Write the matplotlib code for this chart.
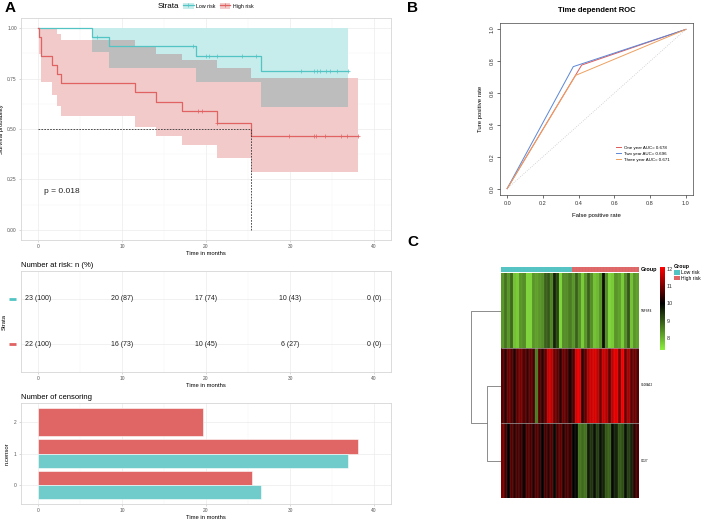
import matplotlib
matplotlib.use("Agg")
import matplotlib.pyplot as plt
import numpy as np
from matplotlib.lines import Line2D
from matplotlib.patches import Patch
from matplotlib.colors import LinearSegmentedColormap, ListedColormap
from matplotlib.transforms import blended_transform_factory

plt.rcParams['font.family'] = ['Liberation Sans', 'DejaVu Sans']

# ---- KM data ----
low_t = [0, 6.47, 8.45, 18.77, 26.5]
low_s = [1.0, 0.957, 0.913, 0.864, 0.788]
low_lo = [1.0, 0.88, 0.80, 0.735, 0.61]
low_hi = [1.0, 1.0, 1.0, 1.0, 1.0]
low_end = 36.9
low_cens = [7.06, 18.4, 20.0, 20.3, 21.35, 24.3, 26.0, 31.3, 32.9, 33.2, 33.5, 34.3, 34.7, 35.6, 36.9]

high_t = [0, 0.16, 0.4, 1.63, 2.3, 2.74, 11.55, 14.05, 17.1, 21.3, 25.4]
high_s = [1.0, 0.955, 0.864, 0.818, 0.773, 0.727, 0.682, 0.636, 0.591, 0.532, 0.466]
high_lo = [1.0, 0.87, 0.735, 0.67, 0.615, 0.562, 0.512, 0.466, 0.42, 0.355, 0.287]
high_hi = [1.0, 1.0, 1.0, 1.0, 0.97, 0.94, 0.91, 0.87, 0.84, 0.80, 0.755]
high_end = 38.1
high_cens = [19.05, 19.5, 21.35, 29.9, 32.9, 33.1, 34.2, 36.0, 36.8, 38.1]

median_high = 25.4
p_text = "p = 0.018"

# number at risk
risk_times = [0, 10, 20, 30, 40]
risk_low = ["23 (100)", "20 (87)", "17 (74)", "10 (43)", "0 (0)"]
risk_high = ["22 (100)", "16 (73)", "10 (45)", "6 (27)", "0 (0)"]

# number of censoring
cens_levels = [0, 1, 2]
cens_high = [25.5, 38.1, 19.6]
cens_low = [26.5, 36.9, 0]

# ROC
roc_fpr = {"one": [0, 0.417, 1], "two": [0, 0.37, 1], "three": [0, 0.383, 1]}
roc_tpr = {"one": [0, 0.776, 1], "two": [0, 0.766, 1], "three": [0, 0.711, 1]}
roc_labels = {"one": "One year AUC= 0.678", "two": "Two year AUC= 0.696",
              "three": "Three year AUC= 0.671"}
roc_colors = {"one": "#DE5A5A", "two": "#5B86D6", "three": "#EDA060"}

# heatmap
genes = ["TNFSF4", "S100A12", "CD27"]
groups = ["Low risk"] * 23 + ["High risk"] * 22
expr_tnfsf4 = [8.3, 8.7, 8.3, 8.8, 7.8, 7.7, 8.3, 8.4, 7.6, 7.6, 8.3, 8.2, 8.3, 8.4, 8.9, 9.0,
               8.5, 9.6, 9.2, 7.6, 8.4, 8.4, 8.6,
               8.3, 8.9, 8.4, 7.7, 8.3, 8.9, 8.4, 7.8, 7.9, 8.3, 9.8, 8.4, 7.6, 7.7, 8.3,
               8.2, 7.7, 8.4, 9.0, 7.8, 8.3, 8.2]
expr_s100a12 = [10.7, 10.4, 10.9, 10.7, 10.3, 10.8, 11.0, 10.7, 10.5, 10.8, 10.6, 8.6, 10.7,
                10.4, 10.8, 11.7, 11.6, 10.9, 10.8, 10.4, 10.9, 10.7, 10.3,
                10.6, 11.8, 11.9, 10.4, 10.8, 11.5, 11.7, 11.8, 11.6, 11.0, 11.7, 11.5, 10.8,
                11.6, 11.9, 11.0, 12.0, 10.9, 11.4, 10.8, 10.9, 10.7]
expr_cd27 = [11.0, 10.6, 10.0, 10.7, 10.4, 10.6, 10.5, 10.2, 10.7, 10.6, 10.3, 10.7, 10.5,
             10.0, 10.6, 10.4, 10.7, 9.9, 10.6, 10.8, 10.3, 10.6, 10.5,
             10.0, 9.9, 8.7, 8.8, 8.7, 9.7, 9.4, 9.8, 9.3, 9.8, 9.6, 9.0, 8.9, 9.9, 9.6,
             9.0, 9.1, 9.8, 9.3, 9.6, 10.4, 10.6]
merge_heights = [1.0, 2.07]

RED = "#E06262"
CYAN = "#52C4C4"
RED_FILL = "#F2CACA"
CYAN_FILL = "#C6ECEC"
GRAY_FILL = "#BDBDBD"
GRID = "#EBEBEB"


def step_at(t, v, x):
    idx = np.searchsorted(t, x, side="right") - 1
    return np.asarray(v)[idx]


def style_gg(ax):
    for s in ax.spines.values():
        s.set_color("#D6D6D6")
        s.set_linewidth(0.6)
    ax.tick_params(length=1.5, width=0.4, color="#BBBBBB", labelsize=3.5,
                   labelcolor="#555555", pad=1.5)
    ax.grid(True, which="major", color=GRID, lw=0.5)
    ax.grid(True, which="minor", color="#F3F3F3", lw=0.3)
    ax.set_axisbelow(True)


fig = plt.figure(figsize=(7.08, 5.19), dpi=100)
W, H = 708, 519


def box(x0, y0, x1, y1):
    return [x0 / W, 1 - y1 / H, (x1 - x0) / W, (y1 - y0) / H]


# ---------------- KM plot ----------------
ax = fig.add_axes(box(21, 18, 391, 240))
lt = np.array(low_t + [low_end])
ht = np.array(high_t + [high_end])
ax.fill_between(ht, high_lo + [high_lo[-1]], high_hi + [high_hi[-1]], step="post",
                color=RED_FILL, lw=0)
ax.fill_between(lt, low_lo + [low_lo[-1]], low_hi + [low_hi[-1]], step="post",
                color=CYAN_FILL, lw=0)
grid_t = np.unique(np.concatenate([lt, ht]))
grid_t = grid_t[grid_t <= min(low_end, high_end)]
o_lo = np.maximum(step_at(low_t, low_lo, grid_t), step_at(high_t, high_lo, grid_t))
o_hi = np.minimum(step_at(low_t, low_hi, grid_t), step_at(high_t, high_hi, grid_t))
o_hi = np.maximum(o_hi, o_lo)
ax.fill_between(grid_t, o_lo, o_hi, step="post", color=GRAY_FILL, lw=0)

ax.step(lt, low_s + [low_s[-1]], where="post", color=CYAN, lw=0.9)
ax.step(ht, high_s + [high_s[-1]], where="post", color=RED, lw=0.9)
ax.plot(low_cens, step_at(low_t, low_s, low_cens), "+", color=CYAN, ms=3.5, mew=0.5)
ax.plot(high_cens, step_at(high_t, high_s, high_cens), "+", color=RED, ms=3.5, mew=0.5)
ax.plot([0, median_high], [0.5, 0.5], ls=(0, (2, 1.5)), color="#333333", lw=0.6)
ax.plot([median_high, median_high], [0, 0.5], ls=(0, (2, 1.5)), color="#333333", lw=0.6)
ax.text(0.7, 0.19, p_text, fontsize=6, color="#222222", va="center")
ax.set_xlim(-2, 42)
ax.set_ylim(-0.05, 1.05)
ax.set_xticks([0, 10, 20, 30, 40])
ax.set_xticks([5, 15, 25, 35], minor=True)
ax.set_yticks([0, 0.25, 0.5, 0.75, 1.0])
ax.set_yticklabels(["0.00", "0.25", "0.50", "0.75", "1.00"])
ax.set_yticks([0.125, 0.375, 0.625, 0.875], minor=True)
ax.tick_params(which="minor", length=0)
style_gg(ax)
ax.set_xlabel("Time in months", fontsize=4.2, labelpad=1.5)
ax.set_ylabel("Survival probability", fontsize=4.2, labelpad=2)
fig.text(10 / W, 1 - 8 / H, "A", fontsize=11, fontweight="bold", va="center", ha="center")

# legend at top
fig.text(158 / W, 1 - 6 / H, "Strata", fontsize=5.8, va="center")
h_low = (Patch(facecolor=CYAN_FILL, edgecolor="none"),
         Line2D([], [], color=CYAN, lw=0.9, marker="+", ms=3.5, mew=0.5))
h_high = (Patch(facecolor=RED_FILL, edgecolor="none"),
          Line2D([], [], color=RED, lw=0.9, marker="+", ms=3.5, mew=0.5))
fig.legend([h_low, h_high], ["Low risk", "High risk"], loc="center left",
           bbox_to_anchor=(183 / W, 1 - 6 / H), ncol=2, frameon=False, fontsize=3.8,
           handlelength=2.0, handleheight=1.2, columnspacing=0.8, handletextpad=0.5,
           borderaxespad=0, borderpad=0)

# ---------------- risk table ----------------
ax2 = fig.add_axes(box(21, 271, 391, 372))
for t, a, b in zip(risk_times, risk_low, risk_high):
    ax2.text(t, 2, a, ha="center", va="center", fontsize=5, color="#222222")
    ax2.text(t, 1, b, ha="center", va="center", fontsize=5, color="#222222")
ax2.set_xlim(-2, 42)
ax2.set_ylim(0.4, 2.6)
ax2.set_xticks([0, 10, 20, 30, 40])
ax2.set_xticks([5, 15, 25, 35], minor=True)
ax2.set_yticks([1, 2])
ax2.set_yticklabels(["", ""])
ax2.tick_params(which="minor", length=0)
style_gg(ax2)
ax2.tick_params(axis="y", length=0)
tr = blended_transform_factory(ax2.transAxes, ax2.transData)
ax2.plot([-0.033, -0.013], [2, 2], color=CYAN, lw=2, transform=tr, clip_on=False,
         solid_capstyle="butt")
ax2.plot([-0.033, -0.013], [1, 1], color=RED, lw=2, transform=tr, clip_on=False,
         solid_capstyle="butt")
ax2.set_xlabel("Time in months", fontsize=4.2, labelpad=1.5)
ax2.set_ylabel("Strata", fontsize=4.2, labelpad=9)
ax2.set_title("Number at risk: n (%)", fontsize=5.5, loc="left", pad=3, x=0)

# ---------------- censoring ----------------
ax3 = fig.add_axes(box(21, 403, 391, 504))
for lv, hv, cv in zip(cens_levels, cens_high, cens_low):
    if cv > 0:
        ax3.barh(lv + 0.225, hv, height=0.45, color="#E06666", edgecolor="white", lw=0.4)
        ax3.barh(lv - 0.225, cv, height=0.45, color="#70CBCB", edgecolor="white", lw=0.4)
    else:
        ax3.barh(lv, hv, height=0.9, color="#E06666", edgecolor="white", lw=0.4)
ax3.set_xlim(-2, 42)
ax3.set_ylim(-0.6, 2.6)
ax3.set_xticks([0, 10, 20, 30, 40])
ax3.set_xticks([5, 15, 25, 35], minor=True)
ax3.set_yticks(cens_levels)
ax3.tick_params(which="minor", length=0)
style_gg(ax3)
ax3.set_xlabel("Time in months", fontsize=4.2, labelpad=1.5)
ax3.set_ylabel("n.censor", fontsize=4.2, labelpad=3)
ax3.set_title("Number of censoring", fontsize=5.5, loc="left", pad=3)

# ---------------- ROC ----------------
axr = fig.add_axes(box(500, 23, 693, 195))
axr.plot([0, 1], [0, 1], ls=":", color="#C8C8C8", lw=0.6)
for k in ["one", "two", "three"]:
    axr.plot(roc_fpr[k], roc_tpr[k], color=roc_colors[k], lw=0.7, label=roc_labels[k])
axr.set_xlim(-0.04, 1.04)
axr.set_ylim(-0.04, 1.04)
ticks = [0.0, 0.2, 0.4, 0.6, 0.8, 1.0]
axr.set_xticks(ticks)
axr.set_yticks(ticks)
axr.set_xticklabels([f"{v:.1f}" for v in ticks])
axr.set_yticklabels([f"{v:.1f}" for v in ticks], rotation=90, va="center")
axr.tick_params(length=2, width=0.4, labelsize=4, labelcolor="#333333", pad=2)
for s in axr.spines.values():
    s.set_linewidth(0.5)
    s.set_color("#444444")
axr.set_xlabel("False positive rate", fontsize=4.3, labelpad=5)
axr.set_ylabel("Ture positive rate", fontsize=4.3, labelpad=5)
axr.set_title("Time dependent ROC", fontsize=5.5, fontweight="bold", pad=8)
axr.legend(loc="upper left", bbox_to_anchor=(0.59, 0.30), frameon=False, fontsize=3.2,
           handlelength=1.0, handletextpad=0.8, labelspacing=0.4, borderpad=0)
fig.text(413 / W, 1 - 8 / H, "B", fontsize=11, fontweight="bold", va="center", ha="center")

# ---------------- heatmap ----------------
fig.text(413 / W, 1 - 242 / H, "C", fontsize=11, fontweight="bold", va="center", ha="center")
data = np.array([expr_tnfsf4, expr_s100a12, expr_cd27])
ncol = data.shape[1]
cmap = LinearSegmentedColormap.from_list(
    "gbr", [(0, "#8CF03C"), (0.5625, "#000000"), (1, "#FF0000")])
vmin, vmax = 7.3, 12.1
axh = fig.add_axes(box(501, 273, 639, 498))
axh.pcolormesh(data, cmap=cmap, vmin=vmin, vmax=vmax, edgecolors="none")
axh.vlines(np.arange(1, ncol), 0, 3, color="#A8A8A8", lw=0.18, alpha=0.6)
axh.hlines([1, 2], 0, ncol, color="#A0A0A0", lw=0.5)
axh.set_xlim(0, ncol)
axh.set_ylim(data.shape[0], 0)
axh.set_xticks([])
axh.set_yticks([])
for s in axh.spines.values():
    s.set_visible(False)
for i, g in enumerate(genes):
    axh.text(ncol + 0.6, i + 0.5, g, fontsize=2.2, va="center", ha="left")

axa = fig.add_axes(box(501, 267, 639, 272))
axa.pcolormesh(np.array([[0 if g == "Low risk" else 1 for g in groups]]),
               cmap=ListedColormap([CYAN, "#E06666"]), edgecolors="none")
axa.vlines(np.arange(1, ncol), 0, 1, color="#B8B8B8", lw=0.15, alpha=0.6)
axa.set_xlim(0, ncol)
axa.set_xticks([])
axa.set_yticks([])
for s in axa.spines.values():
    s.set_visible(False)
axa.text(1.01, 0.5, "Group", transform=axa.transAxes, fontsize=4, fontweight="bold",
         va="center", ha="left")

# dendrogram
axd = fig.add_axes(box(471, 273, 501, 498))
h1, h2 = merge_heights
dc = "#7A7A7A"
axd.plot([0, h1, h1, 0], [1.5, 1.5, 2.5, 2.5], color=dc, lw=0.6)
axd.plot([0, h2, h2, h1], [0.5, 0.5, 2.0, 2.0], color=dc, lw=0.6)
axd.set_xlim(h2 * 1.01, 0)
axd.set_ylim(3, 0)
axd.axis("off")

# colorbar
axc = fig.add_axes(box(660, 267, 665, 350))
sm = plt.cm.ScalarMappable(cmap=cmap, norm=plt.Normalize(vmin, vmax))
cb = fig.colorbar(sm, cax=axc)
cb.set_ticks([8, 9, 10, 11, 12])
cb.outline.set_visible(False)
axc.tick_params(length=0, labelsize=4, pad=1.5, labelcolor="#333333")

fig.legend([Patch(facecolor=CYAN), Patch(facecolor="#E06666")], ["Low risk", "High risk"],
           title="Group", loc="upper left", bbox_to_anchor=(674 / W, 1 - 264 / H),
           frameon=False, fontsize=3.6, title_fontproperties={"size": 3.8, "weight": "bold"},
           handlelength=1.1, handleheight=1.1, handletextpad=0.3, labelspacing=0.15,
           borderpad=0, borderaxespad=0, alignment="left")

fig.savefig("out.png", dpi=100)
